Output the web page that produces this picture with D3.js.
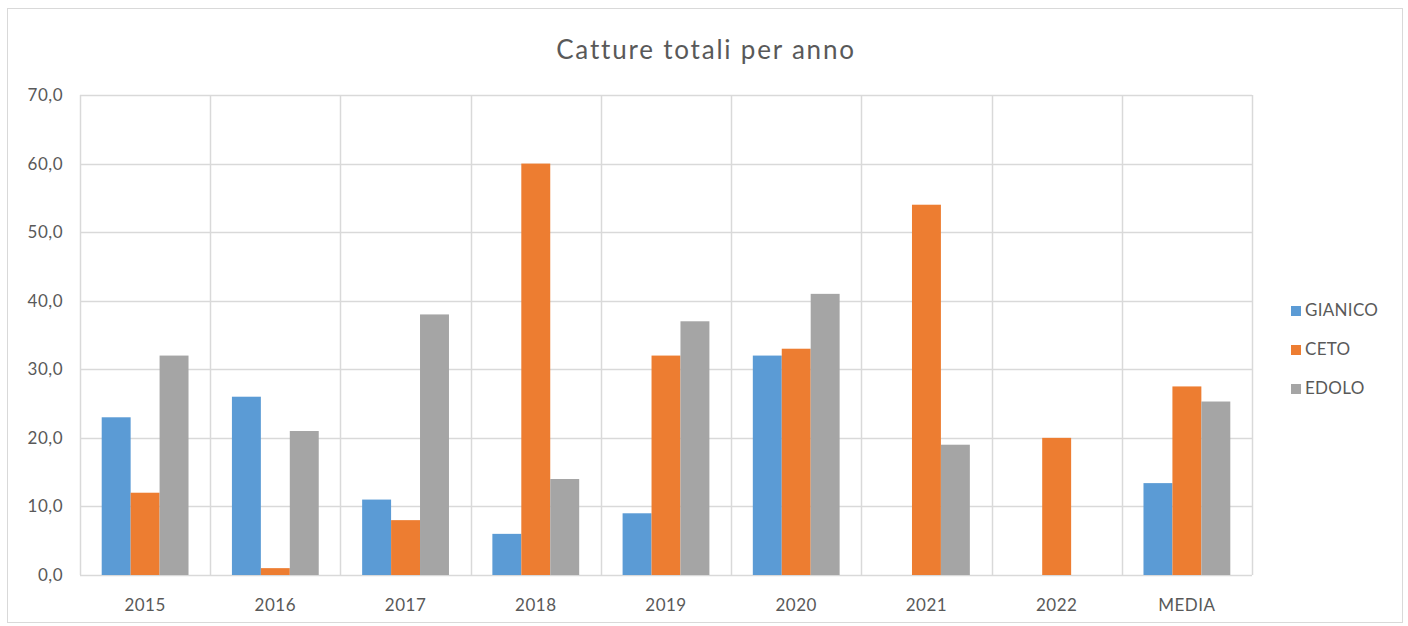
<!DOCTYPE html>
<html>
<head>
<meta charset="utf-8">
<script src="https://cdn.jsdelivr.net/npm/d3@7"></script>
<style>
  body { margin: 0; background: #fff; }
  text { font-family: Lato, "Open Sans", sans-serif; fill: #595959; }
</style>
</head>
<body>
<svg width="1408" height="626"></svg>
<script>
// chart data
var categories = ["2015", "2016", "2017", "2018", "2019", "2020", "2021", "2022", "MEDIA"];
var seriesNames = ["GIANICO", "CETO", "EDOLO"];
var gianico = [23, 26, 11, 6, 9, 32, 0, 0, 13.4];
var ceto = [12, 1, 8, 60, 32, 33, 54, 20, 27.5];
var edolo = [32, 21, 38, 14, 37, 41, 19, 0, 25.3];
var yTicks = [0, 10, 20, 30, 40, 50, 60, 70];
var colors = ["#5B9BD5", "#ED7D31", "#A5A5A5"];

var svg = d3.select("svg"),
    width = +svg.attr("width"),
    height = +svg.attr("height");

// outer frame
svg.append("rect")
    .attr("x", 7.5).attr("y", 8.5)
    .attr("width", 1395).attr("height", 614)
    .attr("fill", "#fff")
    .attr("stroke", "#d9d9d9");

// title
svg.append("text")
    .attr("x", 706).attr("y", 59)
    .attr("text-anchor", "middle")
    .style("font-size", "26px")
    .style("letter-spacing", "1.8px")
    .text("Catture totali per anno");

var plot = { left: 80, right: 1252, top: 95, bottom: 575 };

var x = d3.scaleBand()
    .domain(categories)
    .range([plot.left, plot.right]);

var xInner = d3.scaleBand()
    .domain(seriesNames)
    .range([0, x.bandwidth()])
    .paddingInner(0)
    .paddingOuter(0.75);

var y = d3.scaleLinear()
    .domain([0, 70])
    .range([plot.bottom, plot.top]);

// horizontal grid
svg.append("g")
    .selectAll("line")
    .data(yTicks)
    .enter().append("line")
    .attr("x1", plot.left).attr("x2", plot.right)
    .attr("y1", d => Math.round(y(d)) + 0.5)
    .attr("y2", d => Math.round(y(d)) + 0.5)
    .attr("stroke", "#d9d9d9")
    .attr("stroke-width", 1.5);

// vertical grid (category boundaries)
var bounds = categories.map(c => x(c)).concat([plot.right]);
svg.append("g")
    .selectAll("line")
    .data(bounds)
    .enter().append("line")
    .attr("x1", d => Math.round(d) + 0.5).attr("x2", d => Math.round(d) + 0.5)
    .attr("y1", plot.top).attr("y2", plot.bottom)
    .attr("stroke", "#d9d9d9")
    .attr("stroke-width", 1.5);

// y tick labels
svg.append("g")
    .selectAll("text")
    .data(yTicks)
    .enter().append("text")
    .attr("x", 63)
    .attr("y", d => y(d) + 6)
    .attr("text-anchor", "end")
    .style("font-size", "17px")
    .style("letter-spacing", "0.5px")
    .text(d => d3.format(".1f")(d).replace(".", ","));

// x tick labels
svg.append("g")
    .selectAll("text")
    .data(categories)
    .enter().append("text")
    .attr("x", d => x(d) + x.bandwidth() / 2)
    .attr("y", 611)
    .attr("text-anchor", "middle")
    .style("font-size", "17px")
    .style("letter-spacing", "0.5px")
    .text(d => d);

// bars
var seriesData = [gianico, ceto, edolo];
seriesNames.forEach(function(name, i) {
    svg.append("g")
        .attr("fill", colors[i])
        .selectAll("rect")
        .data(categories.map((c, j) => ({ cat: c, value: seriesData[i][j] })))
        .enter().append("rect")
        .attr("x", d => x(d.cat) + xInner(name))
        .attr("width", xInner.bandwidth())
        .attr("y", d => y(d.value))
        .attr("height", d => y(0) - y(d.value));
});

// legend
var legend = svg.append("g")
    .selectAll("g")
    .data(seriesNames)
    .enter().append("g")
    .attr("transform", (d, i) => "translate(1291," + (311 + i * 39) + ")");

legend.append("rect")
    .attr("x", 0).attr("y", -5)
    .attr("width", 10).attr("height", 10)
    .attr("fill", (d, i) => colors[i]);

legend.append("text")
    .attr("x", 14).attr("y", 5)
    .style("font-size", "17px")
    .style("letter-spacing", "0.3px")
    .text(d => d);
</script>
</body>
</html>
